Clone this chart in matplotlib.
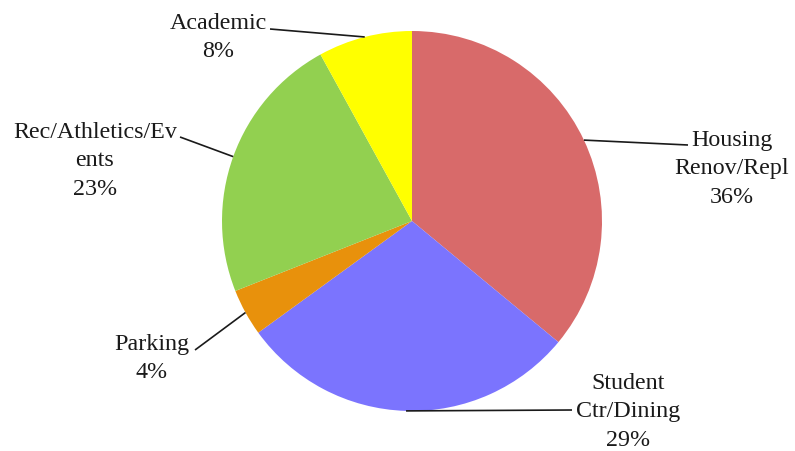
import numpy as np
import matplotlib
matplotlib.use("Agg")
import matplotlib.pyplot as plt

# Capital budget share by project category (percent), clockwise from 12 o'clock
categories = ["Housing\nRenov/Repl", "Student\nCtr/Dining", "Parking",
              "Rec/Athletics/Ev\nents", "Academic"]
shares = [36, 29, 4, 23, 8]
colors = ["#D86A6A", "#7B74FE", "#E8910C", "#92D050", "#FFFF00"]

W, H, DPI = 795, 451, 100
CX, CY, R = 412, 221, 190  # pie centre and radius in pixels

fig = plt.figure(figsize=(W / DPI, H / DPI), dpi=DPI)
ax = fig.add_axes([0, 0, 1, 1])

wedges, _ = ax.pie(shares, colors=colors, startangle=90, counterclock=False,
                   radius=1.0, wedgeprops=dict(linewidth=0))

ax.set_xlim(-CX / R, (W - CX) / R)
ax.set_ylim(-(H - CY) / R, CY / R)
ax.set_aspect("auto")
ax.axis("off")


def px(x, y):
    """Pixel position (origin top-left) to data coordinates."""
    return (x - CX) / R, (CY - y) / R


# label block: centre x, first-line top y, leader anchor near the text
label_layout = [
    (732, 130, (688, 145)),   # Housing
    (628, 373, (572, 410)),   # Student
    (152, 334, (195, 350)),   # Parking
    (95, 122, (180, 137)),    # Rec/Athletics
    (218, 13, (270, 29)),     # Academic
]

font = dict(family="Liberation Serif", size=17.3, color="#1a1a1a")

for w, name, share, (tx, ty, anchor) in zip(wedges, categories, shares, label_layout):
    mid = np.deg2rad((w.theta1 + w.theta2) / 2)
    edge = (np.cos(mid), np.sin(mid))
    ax.plot([edge[0], px(*anchor)[0]], [edge[1], px(*anchor)[1]],
            color="#1a1a1a", lw=1.2, solid_capstyle="butt")
    ax.text(*px(tx, ty), f"{name}\n{share}%", ha="center", va="top",
            multialignment="center", linespacing=1.46, **font)

fig.savefig("out.png", dpi=DPI, facecolor="white")
